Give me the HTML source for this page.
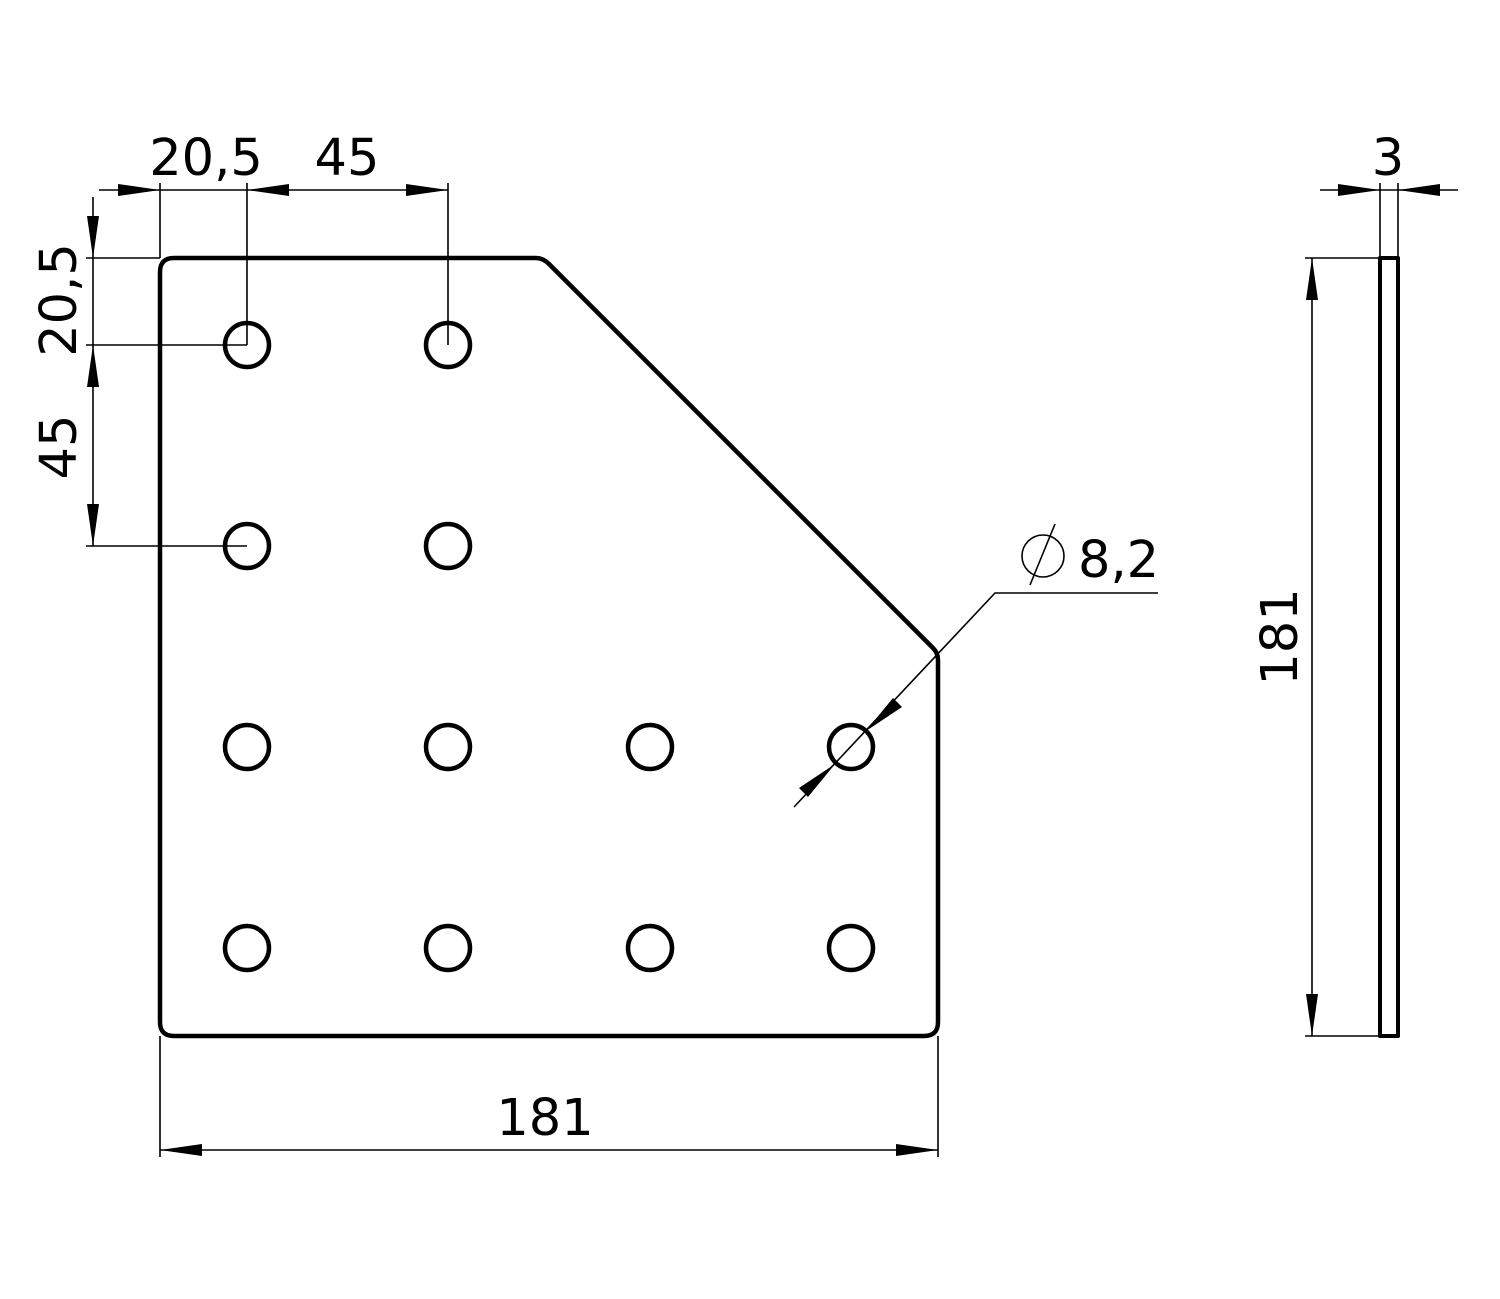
<!DOCTYPE html>
<html><head><meta charset="utf-8"><style>html,body{margin:0;padding:0;background:#fff}svg{display:block}text{font-family:"DejaVu Sans","Liberation Sans",sans-serif;font-size:51px;fill:#000}</style></head>
<body>
<svg width="1500" height="1299" viewBox="0 0 1500 1299" xmlns="http://www.w3.org/2000/svg">
<g fill="none" stroke="#000" stroke-width="4.5" stroke-linejoin="round">
<path d="M174,258 H536 Q543,258 549,264 L933,648 Q938,653 938,660 V1022 Q938,1036 924,1036 H174 Q160,1036 160,1022 V272 Q160,258 174,258 Z"/>
<g>
<circle cx="247" cy="345" r="22"/><circle cx="448" cy="345" r="22"/>
<circle cx="247" cy="546" r="22"/><circle cx="448" cy="546" r="22"/>
<circle cx="247" cy="747" r="22"/><circle cx="448" cy="747" r="22"/><circle cx="650" cy="747" r="22"/><circle cx="851" cy="747" r="22"/>
<circle cx="247" cy="948" r="22"/><circle cx="448" cy="948" r="22"/><circle cx="650" cy="948" r="22"/><circle cx="851" cy="948" r="22"/>
</g>
<rect x="1380" y="258" width="18" height="778" stroke-width="4"/>
</g>
<g fill="none" stroke="#000" stroke-width="1.6">
<line x1="99" y1="190" x2="448" y2="190"/>
<line x1="160" y1="183" x2="160" y2="258"/>
<line x1="247" y1="183" x2="247" y2="345"/>
<line x1="448" y1="183" x2="448" y2="345"/>
<line x1="93" y1="197" x2="93" y2="546"/>
<line x1="86" y1="258" x2="160" y2="258"/>
<line x1="86" y1="345" x2="247" y2="345"/>
<line x1="86" y1="546" x2="247" y2="546"/>
<line x1="160" y1="1036" x2="160" y2="1157"/>
<line x1="938" y1="1036" x2="938" y2="1157"/>
<line x1="160" y1="1150" x2="938" y2="1150"/>
<line x1="1305" y1="258" x2="1380" y2="258"/>
<line x1="1305" y1="1036" x2="1380" y2="1036"/>
<line x1="1312" y1="258" x2="1312" y2="1036"/>
<line x1="1380" y1="183" x2="1380" y2="258"/>
<line x1="1398" y1="183" x2="1398" y2="258"/>
<line x1="1320" y1="190" x2="1458" y2="190"/>
<polyline points="794,807 995,593 1158,593"/>
<circle cx="1043" cy="556" r="21"/>
<line x1="1055" y1="524" x2="1030" y2="585"/>
</g>
<g fill="#000">
<polygon points="160,190 118,184 118,196"/>
<polygon points="247,190 289,184 289,196"/>
<polygon points="448,190 406,184 406,196"/>
<polygon points="93,258 87,216 99,216"/>
<polygon points="93,345 87,387 99,387"/>
<polygon points="93,546 87,504 99,504"/>
<polygon points="160,1150 202,1144 202,1156"/>
<polygon points="938,1150 896,1144 896,1156"/>
<polygon points="1312,258 1306,300 1318,300"/>
<polygon points="1312,1036 1306,994 1318,994"/>
<polygon points="1380,190 1338,184 1338,196"/>
<polygon points="1398,190 1440,184 1440,196"/>
<polygon points="866,731 893,698 902,707"/>
<polygon points="835,764 808,797 799,788"/>
</g>
<text x="206" y="175" text-anchor="middle">20,5</text>
<text x="347" y="175" text-anchor="middle">45</text>
<text x="1388" y="175" text-anchor="middle">3</text>
<text x="545" y="1135" text-anchor="middle">181</text>
<text x="1078" y="577">8,2</text>
<text transform="translate(76,300) rotate(-90)" text-anchor="middle">20,5</text>
<text transform="translate(76,447) rotate(-90)" text-anchor="middle">45</text>
<text transform="translate(1297,637) rotate(-90)" text-anchor="middle">181</text>
</svg>
</body></html>
